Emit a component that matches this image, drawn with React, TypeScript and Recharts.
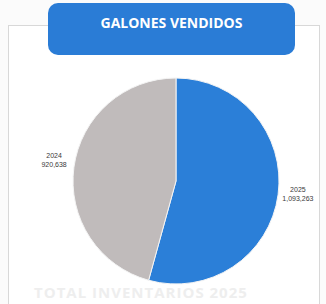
import { PieChart, Pie, Cell } from "recharts"

const years = ["2025", "2024"]
const gallons = [1093263, 920638]
const sliceColors = ["#2b7fd8", "#c0bbbb"]

const data = years.map((year, i) => ({ name: year, value: gallons[i] }))

const fmt = (n: number) => n.toLocaleString("en-US")

const RADIAN = Math.PI / 180

function renderLabel(props: any) {
    const { cx, cy, midAngle, outerRadius, name, value } = props
    const r = outerRadius + 20
    const x = cx + r * Math.cos(-midAngle * RADIAN)
    const y = cy + r * Math.sin(-midAngle * RADIAN)
    return (
        <text x={x} y={y} textAnchor="middle" fill="#3a3a3a" fontSize={7} fontFamily="Arial, 'Liberation Sans', sans-serif">
            <tspan x={x} dy={-6}>{name}</tspan>
            <tspan x={x} dy={9}>{fmt(value)}</tspan>
        </text>
    )
}

export default function App() {
    return (
        <div style={{ position: "absolute", left: 0, top: 0, width: 326, height: 304, background: "#fbfbfb", overflow: "hidden", fontFamily: "'Open Sans', sans-serif" }}>
            {/* card */}
            <div style={{ position: "absolute", left: 8, top: 25, width: 310, height: 290, border: "1px solid #d8d8d8", background: "#fff" }} />
            {/* faint text bleeding through the page */}
            <div style={{ position: "absolute", left: 34, top: 282, fontSize: 15, fontWeight: 700, color: "#eeeeee", letterSpacing: 1, whiteSpace: "nowrap" }}>
                TOTAL INVENTARIOS 2025
            </div>
            {/* title badge */}
            <div style={{
                position: "absolute", left: 48, top: 3, width: 247, height: 52, borderRadius: 10,
                background: "#2a7cd6", color: "#fff", fontWeight: 700, fontSize: 14,
                display: "flex", justifyContent: "center", paddingTop: 10, boxSizing: "border-box",
            }}>
                GALONES VENDIDOS
            </div>
            <div style={{ position: "absolute", left: 0, top: 0 }}>
                <PieChart width={326} height={304}>
                    <Pie
                        data={data}
                        dataKey="value"
                        nameKey="name"
                        cx={171}
                        cy={176}
                        outerRadius={103}
                        startAngle={90}
                        endAngle={-270}
                        stroke="#f4f4f4"
                        strokeWidth={1}
                        label={renderLabel}
                        labelLine={false}
                        isAnimationActive={false}
                    >
                        {data.map((d, i) => (
                            <Cell key={d.name} fill={sliceColors[i]} />
                        ))}
                    </Pie>
                </PieChart>
            </div>
        </div>
    )
}
